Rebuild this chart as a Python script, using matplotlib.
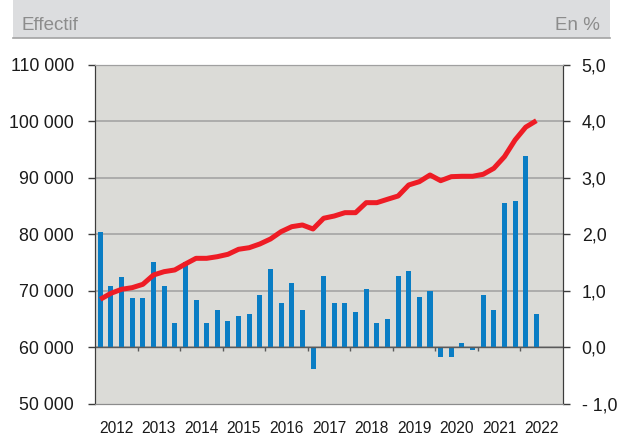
import matplotlib.pyplot as plt
from matplotlib.patches import Rectangle
from matplotlib.lines import Line2D
import numpy as np

plt.rcParams['font.family'] = ['Liberation Sans', 'DejaVu Sans']

# quarterly data 2012Q1 - 2022Q2
years = list(range(2012, 2023))
effectif = [68530, 69590, 70300, 70590, 71180, 72830, 73420, 73720,
            74780, 75780, 75780, 76070, 76490, 77380, 77660, 78320,
            79200, 80500, 81380, 81680, 80970, 82870, 83270, 83860,
            83860, 85630, 85630, 86230, 86810, 88760, 89350, 90530,
            89520, 90230, 90300, 90300, 90650, 91710, 93770, 96730,
            99000, 100140]
variation = [2.04, 1.09, 1.24, 0.875, 0.875, 1.51, 1.09, 0.44,
             1.51, 0.845, 0.44, 0.66, 0.47, 0.56, 0.60, 0.93,
             1.39, 0.78, 1.15, 0.66, -0.375, 1.27, 0.78, 0.78,
             0.63, 1.03, 0.44, 0.50, 1.27, 1.36, 0.90, 1.00,
             -0.16, -0.16, 0.08, -0.04, 0.93, 0.66, 2.56, 2.59,
             3.39, 0.60]
left_ticks = [50000, 60000, 70000, 80000, 90000, 100000, 110000]
right_ticks = [-1, 0, 1, 2, 3, 4, 5]

x = years[0] + (np.arange(len(effectif)) + 0.5) / 4

fig = plt.figure(figsize=(6.29, 4.36), dpi=100)

# header band
fig.patches.append(Rectangle((0.0207, 0.913), 0.949, 0.087, transform=fig.transFigure,
                             facecolor='#dcdddf', edgecolor='none', zorder=0))
fig.lines.append(Line2D([0.0207, 0.970], [0.912, 0.912], transform=fig.transFigure,
                        color='#a3a3a3', lw=1.2))
fig.text(0.0345, 0.931, 'Effectif', color='#8c8c8c', fontsize=13.5, va='baseline', ha='left')
fig.text(0.954, 0.931, 'En %', color='#8c8c8c', fontsize=13.5, va='baseline', ha='right')

ax1 = fig.add_axes([0.151, 0.0734, 0.744, 0.7776])
ax2 = ax1.twinx()
ax2.set_zorder(1)
ax1.set_zorder(2)
ax1.patch.set_visible(False)
ax2.patch.set_visible(True)
ax2.patch.set_facecolor('#dbdbd7')

# bars (%), right axis
ax2.set_ylim(-1, 5)
for t in right_ticks[1:]:
    ax2.axhline(t, color='#a0a0a0', lw=1.1, zorder=0)
ax2.bar(x, variation, width=0.118, color='#0a7dc4', zorder=2)
ax2.axhline(0, color='#5a5a5a', lw=1.0, zorder=3)
ax2.vlines(years[1:], -0.06, 0, color='#5a5a5a', lw=1.0, zorder=3)

# line (effectif), left axis
ax1.plot(x, effectif, color='#ee1c25', lw=3.6, solid_capstyle='butt', zorder=4)
ax1.set_ylim(50000, 110000)
ax1.set_xlim(years[0], years[-1] + 1)

ax1.set_yticks(left_ticks)
ax1.set_yticklabels([f'{v:,}'.replace(',', ' ') for v in left_ticks])
ax2.set_yticks(right_ticks)
ax2.set_yticklabels([(f'{v:.1f}' if v >= 0 else f'- {abs(v):.1f}').replace('.', ',')
                     for v in right_ticks])

ax1.set_xticks(np.array(years) + 0.5)
ax1.set_xticklabels([str(y) for y in years])
ax1.tick_params(axis='x', length=0, pad=12, labelsize=11.2, labelcolor='#1a1a1a')
ax1.tick_params(axis='y', length=5, width=1, color='#3c3c3c', pad=10,
                labelsize=12.8, labelcolor='#1a1a1a')
ax2.tick_params(axis='y', length=5, width=1, color='#3c3c3c', pad=8.5,
                labelsize=12.8, labelcolor='#1a1a1a')

for a in (ax1, ax2):
    a.spines['left'].set_color('#3c3c3c')
    a.spines['right'].set_color('#3c3c3c')
    a.spines['top'].set_color('#a0a0a0')
    a.spines['bottom'].set_color('#8c8c8c')

fig.savefig('out.png', dpi=100)
